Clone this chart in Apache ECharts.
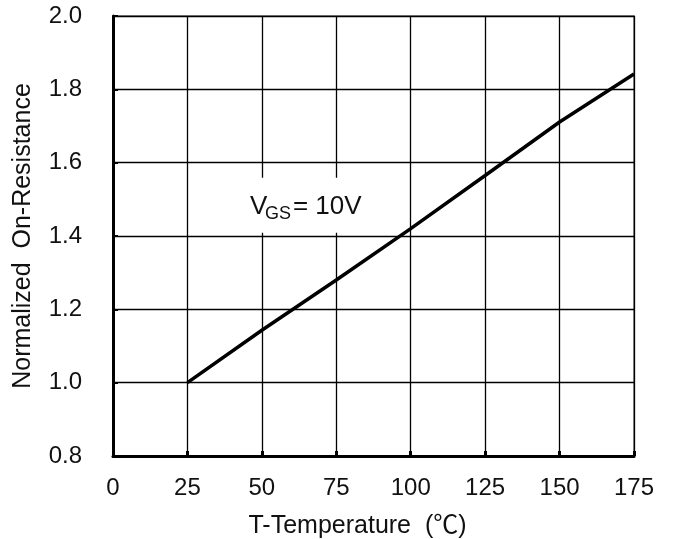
<!DOCTYPE html>
<html>
<head>
<meta charset="utf-8">
<script src="https://cdn.jsdelivr.net/npm/echarts@6/dist/echarts.min.js"></script>
<style>
  html, body { margin: 0; padding: 0; background: #fff; }
  #main { width: 674px; height: 539px; }
</style>
</head>
<body>
<div id="main"></div>
<script>
// data
var tempC = [25, 50, 75, 100, 125, 150, 175];
var rdsNorm = [1.0, 1.143, 1.28, 1.42, 1.565, 1.711, 1.842];
var xTicks = [0, 25, 50, 75, 100, 125, 150, 175];
var yTicks = [0.8, 1.0, 1.2, 1.4, 1.6, 1.8, 2.0];

var font = '"Liberation Sans", Arial, "Noto Sans CJK SC", sans-serif';
var txt = '#111';

var chart = echarts.init(document.getElementById('main'));
chart.setOption({
    animation: false,
    backgroundColor: '#fff',
    grid: {
        left: 113, top: 16, right: 40, bottom: 83,
        outerBoundsMode: 'none',
        show: true,
        borderColor: '#8c8c8c',
        borderWidth: 2
    },
    xAxis: {
        type: 'value',
        min: xTicks[0],
        max: xTicks[xTicks.length - 1],
        interval: 25,
        name: 'T-Temperature  (℃)',
        nameLocation: 'middle',
        nameGap: 58,
        nameTextStyle: { color: txt, fontSize: 25, fontFamily: font, padding: [0, 32, 0, 0] },
        axisLine: { show: true, onZero: false, lineStyle: { color: '#000', width: 3 } },
        axisTick: { show: true, inside: true, length: 5, lineStyle: { color: '#000', width: 3 } },
        axisLabel: { color: txt, fontSize: 24, fontFamily: font, margin: 20 },
        splitLine: { show: true, lineStyle: { color: '#000', width: 1.3 } }
    },
    yAxis: {
        type: 'value',
        min: yTicks[0],
        max: yTicks[yTicks.length - 1],
        interval: 0.2,
        name: 'Normalized  On-Resistance',
        nameLocation: 'middle',
        nameGap: 77,
        nameTextStyle: { color: txt, fontSize: 25, fontFamily: font },
        axisLine: { show: true, onZero: false, lineStyle: { color: '#000', width: 3 } },
        axisTick: { show: true, inside: true, length: 5, lineStyle: { color: '#000', width: 2 } },
        axisLabel: {
            color: txt, fontSize: 24, fontFamily: font, margin: 31,
            formatter: function (v) { return v.toFixed(1); }
        },
        splitLine: { show: true, lineStyle: { color: '#000', width: 1.3 } }
    },
    series: [{
        type: 'line',
        data: tempC.map(function (t, i) { return [t, rdsNorm[i]]; }),
        showSymbol: false,
        lineStyle: { color: '#000', width: 3.5 },
        z: 5
    }]
});

// VGS annotation, anchored at a data coordinate
var p = chart.convertToPixel({ gridIndex: 0 }, [46, 1.48]);
chart.setOption({
    graphic: [{
        type: 'group',
        x: p[0], y: p[1],
        z: 100,
        children: [
            { type: 'rect', shape: { x: -20, y: -29, width: 150, height: 55 }, style: { fill: '#fff' } },
            { type: 'text', x: 0, y: 0, style: { text: 'V', fontSize: 26, fontFamily: font, fill: txt, verticalAlign: 'middle' } },
            { type: 'text', x: 15, y: 7, style: { text: 'GS', fontSize: 18, fontFamily: font, fill: txt, verticalAlign: 'middle' } },
            { type: 'text', x: 43, y: 0, style: { text: '= 10V', fontSize: 26, fontFamily: font, fill: txt, verticalAlign: 'middle' } }
        ]
    }]
});
</script>
</body>
</html>
